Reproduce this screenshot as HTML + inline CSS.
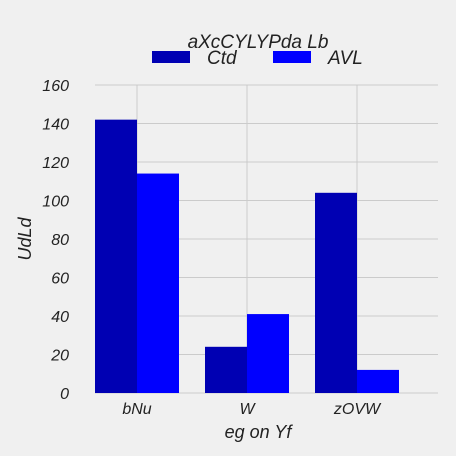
<!DOCTYPE html>
<html><head><meta charset="utf-8"><style>
html,body{margin:0;padding:0;background:#f0f0f0;overflow:hidden;}
svg{display:block;}
text{font-family:"Liberation Sans",sans-serif;font-style:italic;}
</style></head><body>
<svg id="c" width="456" height="456" xmlns="http://www.w3.org/2000/svg">
<rect width="456" height="456" fill="#f0f0f0"/>
</svg>
<script>
const categories=["bNu","W","zOVW"];
const ctdValues=[142,24,104];
const avlValues=[114,41,12];
const yTicks=[0,20,40,60,80,100,120,140,160];
const seriesNames=["Ctd","AVL"];
const svg=document.getElementById('c');
const NS="http://www.w3.org/2000/svg";
const x0=95,x1=438,yTop=85,yBot=393,ymax=160;
const y=v=>yBot-(v/ymax)*(yBot-yTop);
const cx=i=>137+i*110;
const bw=42;
function mk(t,a,txt){const e=document.createElementNS(NS,t);for(const k in a)e.setAttribute(k,a[k]);if(txt!==undefined)e.textContent=txt;svg.appendChild(e);return e;}
yTicks.forEach(t=>{
 const g=mk('line',{x1:x0,x2:x1,y1:y(t),y2:y(t),stroke:'#cbcbcb','stroke-width':1});
 
 
 const l=mk('text',{x:69,y:y(t)+6,'text-anchor':'end','font-size':16,fill:'#222'},String(t));
 
 
});
categories.forEach((c,i)=>{
 const g=mk('line',{x1:cx(i),x2:cx(i),y1:yTop,y2:yBot,stroke:'#cbcbcb','stroke-width':1});
 
 
 const l=mk('text',{x:cx(i),y:414,'text-anchor':'middle','font-size':16,fill:'#222'},c);
 
 
});
categories.forEach((c,i)=>{
 const a=mk('rect',{x:cx(i)-bw,y:y(ctdValues[i]),width:bw,height:yBot-y(ctdValues[i]),fill:'#0000b3'});
 
 
 const b=mk('rect',{x:cx(i),y:y(avlValues[i]),width:bw,height:yBot-y(avlValues[i]),fill:'#0000ff'});
 
 
});
let t=mk('text',{x:258,y:48,'text-anchor':'middle','font-size':19,fill:'#222'},'aXcCYLYPda Lb');


t=mk('text',{x:258,y:438,'text-anchor':'middle','font-size':18,fill:'#222'},'eg on Yf');


t=mk('text',{x:0,y:0,'text-anchor':'middle','font-size':18,fill:'#222',transform:'translate(31,239) rotate(-90)'},'UdLd');


const lx=[152,273],cols=['#0000b3','#0000ff'];
seriesNames.forEach((n,i)=>{
 const r=mk('rect',{x:lx[i],y:51,width:38,height:12,fill:cols[i]});
 
 
 const l=mk('text',{x:lx[i]+55,y:64,'font-size':19,fill:'#222'},n);
 
 
});
</script>
</body></html>
